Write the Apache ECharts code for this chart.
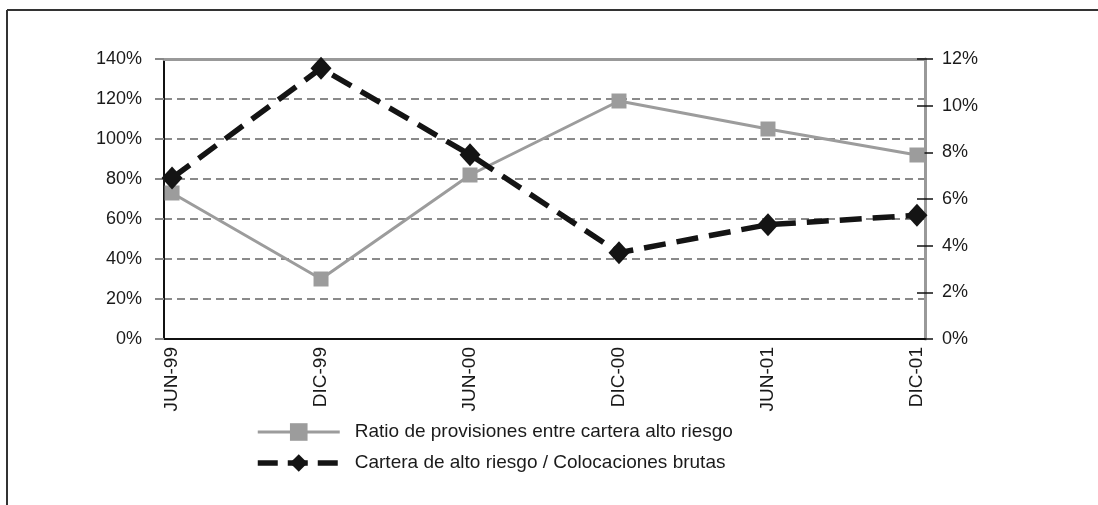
<!DOCTYPE html>
<html>
<head>
<meta charset="utf-8">
<script src="https://cdn.jsdelivr.net/npm/echarts@6/dist/echarts.min.js"></script>
<style>
  html, body { margin: 0; padding: 0; background: #fff; }
  #chart { width: 1098px; height: 505px; }
</style>
</head>
<body>
<div id="chart"></div>
<script>
// datos
var periodos = ['JUN-99', 'DIC-99', 'JUN-00', 'DIC-00', 'JUN-01', 'DIC-01'];
var ratioProvisiones = [73, 30, 82, 119, 105, 92];        // eje izquierdo, %
var carteraAltoRiesgo = [6.9, 11.6, 7.9, 3.7, 4.9, 5.3];  // eje derecho, %

var nombre1 = 'Ratio de provisiones entre cartera alto riesgo';
var nombre2 = 'Cartera de alto riesgo / Colocaciones brutas';

var idx = periodos.map(function (p, i) { return i; });

var chart = echarts.init(document.getElementById('chart'));
var fuente = 'Liberation Sans, Arial, sans-serif';

var option = {
    backgroundColor: '#fff',
    animation: false,
    textStyle: { fontFamily: fuente },
    grid: { left: 164, right: 173, top: 59, bottom: 166 },
    graphic: [
        // marco exterior
        { type: 'line', shape: { x1: 7, y1: 10, x2: 1098, y2: 10 }, style: { stroke: '#333', lineWidth: 2 } },
        { type: 'line', shape: { x1: 7, y1: 10, x2: 7, y2: 505 }, style: { stroke: '#333', lineWidth: 2 } }
    ],
    legend: {
        orient: 'vertical',
        left: 255,
        top: 421,
        padding: 0,
        itemWidth: 82,
        itemHeight: 22,
        itemGap: 9,
        textStyle: { fontSize: 19, lineHeight: 22, color: '#1a1a1a', fontFamily: fuente, padding: [0, 0, 0, 10] },
        data: [
            { name: nombre1, lineStyle: { width: 3, color: '#9c9c9c' } },
            { name: nombre2, lineStyle: { width: 5.5, color: '#141414', type: [20, 10] } }
        ]
    },
    xAxis: [
        {
            type: 'value',
            min: -0.054,
            max: 5.054,
            axisLine: { onZero: false, lineStyle: { color: '#111', width: 2 } },
            axisTick: { show: false },
            splitLine: { show: false },
            axisLabel: {
                customValues: idx,
                rotate: 90,
                margin: 8,
                fontSize: 19,
                color: '#1a1a1a',
                formatter: function (v) { return periodos[Math.round(v)] || ''; }
            }
        },
        {
            // borde superior del area de trazado
            type: 'value',
            position: 'top',
            min: -0.054,
            max: 5.054,
            axisLine: { show: true, onZero: false, lineStyle: { color: '#999', width: 3 } },
            axisTick: { show: false },
            axisLabel: { show: false },
            splitLine: { show: false }
        }
    ],
    yAxis: [
        {
            type: 'value',
            min: 0,
            max: 140,
            interval: 20,
            axisLine: { show: true, onZero: false, lineStyle: { color: '#111', width: 2 } },
            axisTick: { show: true, length: 9, lineStyle: { color: '#888', width: 2 } },
            axisLabel: { formatter: '{value}%', fontSize: 18, color: '#1a1a1a', margin: 22 },
            splitLine: { show: true, lineStyle: { color: '#8a8a8a', width: 2, type: [8, 5] } }
        },
        {
            type: 'value',
            position: 'right',
            min: 0,
            max: 12,
            interval: 2,
            axisLine: { show: true, onZero: false, lineStyle: { color: '#999', width: 3 } },
            axisTick: { show: true, length: 8, lineStyle: { color: '#111', width: 1.5 } },
            axisLabel: { formatter: '{value}%', fontSize: 18, color: '#1a1a1a', margin: 17 },
            splitLine: { show: false }
        },
        {
            // marcas hacia dentro del eje derecho
            type: 'value',
            position: 'right',
            min: 0,
            max: 12,
            interval: 2,
            axisLine: { show: false, onZero: false },
            axisTick: { show: true, inside: true, length: 8, lineStyle: { color: '#111', width: 1.5 } },
            axisLabel: { show: false },
            splitLine: { show: false }
        }
    ],
    series: [
        {
            name: nombre1,
            type: 'line',
            yAxisIndex: 0,
            data: ratioProvisiones.map(function (v, i) { return [i, v]; }),
            symbol: 'rect',
            symbolSize: 15,
            itemStyle: { color: '#9c9c9c' },
            lineStyle: { color: '#9c9c9c', width: 3 },
            z: 3
        },
        {
            name: nombre2,
            type: 'line',
            yAxisIndex: 1,
            data: carteraAltoRiesgo.map(function (v, i) { return [i, v]; }),
            symbol: 'diamond',
            symbolSize: [21, 23],
            itemStyle: { color: '#141414' },
            lineStyle: { color: '#141414', width: 5.5, type: [22, 11] },
            z: 4
        }
    ]
};

chart.setOption(option);
</script>
</body>
</html>
